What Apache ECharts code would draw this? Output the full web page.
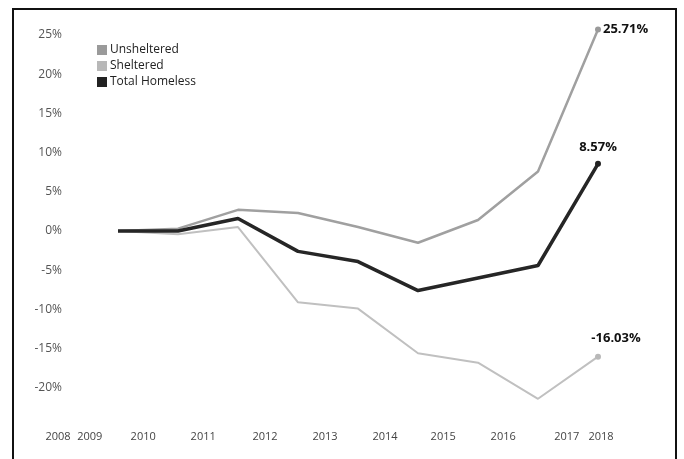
<!DOCTYPE html>
<html>
<head>
<meta charset="utf-8">
<script src="https://cdn.jsdelivr.net/npm/echarts@6/dist/echarts.min.js"></script>
<style>
  html, body { margin: 0; padding: 0; background: #fff; }
  #chart { width: 684px; height: 459px; }
</style>
</head>
<body>
<div id="chart"></div>
<script>
// Year-over-year change in homeless counts, relative to 2009 (%)
const years = [2009, 2010, 2011, 2012, 2013, 2014, 2015, 2016, 2017];
const unsheltered = [0, 0.3, 2.7, 2.3, 0.5, -1.5, 1.4, 7.6, 25.71];
const sheltered = [0, -0.4, 0.5, -9.1, -9.9, -15.6, -16.8, -21.4, -16.03];
const totalHomeless = [0, 0.0, 1.6, -2.6, -3.9, -7.6, -6.0, -4.4, 8.57];

const seriesNames = ['Unsheltered', 'Sheltered', 'Total Homeless'];
const yearTickLabels = ['2008', '2009', '2010', '2011', '2012', '2013', '2014', '2015', '2016', '2017', '2018'];
// where each year caption sits along the time scale
const yearTickSpots = [2008.0, 2008.53, 2009.42, 2010.42, 2011.45, 2012.45, 2013.45, 2014.42, 2015.42, 2016.48, 2017.05];

const font = '"Open Sans", "DejaVu Sans", sans-serif';

function pairs(vals) {
  return vals.map((v, i) => [years[i], v]);
}

function endLabel(vals, position, offset) {
  const last = vals.length - 1;
  return pairs(vals).map((p, i) => {
    if (i !== last) return p;
    return {
      value: p,
      symbol: 'circle',
      symbolSize: 6,
      label: {
        show: true,
        position: position,
        offset: offset,
        formatter: v => v.value[1].toFixed(2) + '%',
        fontFamily: font,
        fontWeight: 'bold',
        fontSize: 13,
        color: '#111'
      }
    };
  });
}

const chart = echarts.init(document.getElementById('chart'), null, { renderer: 'canvas' });

chart.setOption({
  backgroundColor: '#fff',
  animation: false,
  graphic: [{
    type: 'rect',
    shape: { x: 13, y: 9, width: 663, height: 470 },
    style: { fill: 'none', stroke: '#111', lineWidth: 2 },
    silent: true,
    z: 100
  }],
  legend: {
    data: seriesNames,
    orient: 'vertical',
    left: 92,
    top: 39,
    itemWidth: 10,
    itemHeight: 10,
    itemGap: 4,
    icon: 'rect',
    textStyle: { fontFamily: font, fontSize: 12, color: '#222', padding: [0, 0, 0, -2] }
  },
  grid: { left: 58, right: 26, top: 15.4, bottom: 32 },
  xAxis: {
    type: 'value',
    min: 2008,
    max: 2018,
    axisLine: { show: false },
    axisTick: { show: false },
    splitLine: { show: false },
    axisLabel: {
      customValues: yearTickSpots,
      formatter: v => {
        const i = yearTickSpots.findIndex(s => Math.abs(s - v) < 1e-6);
        return i >= 0 ? yearTickLabels[i] : '';
      },
      margin: 4,
      fontFamily: font,
      fontSize: 11,
      color: '#444'
    }
  },
  yAxis: {
    type: 'value',
    min: -25,
    max: 27.5,
    interval: 5,
    axisLine: { show: false },
    axisTick: { show: false },
    splitLine: { show: false },
    axisLabel: {
      formatter: v => (v % 5 === 0 && v > -25 && v < 27.5) ? v + '%' : '',
      margin: -4,
      fontFamily: font,
      fontSize: 12,
      color: '#555'
    }
  },
  series: [
    {
      name: 'Unsheltered',
      type: 'line',
      data: endLabel(unsheltered, 'right', [-3, 0]),
      symbol: 'none',
      color: '#9a9a9a',
      lineStyle: { width: 2.5, color: '#a0a0a0' },
      itemStyle: { color: '#9a9a9a' },
      z: 2
    },
    {
      name: 'Sheltered',
      type: 'line',
      data: endLabel(sheltered, 'top', [18, -4]),
      symbol: 'none',
      color: '#b8b8b8',
      lineStyle: { width: 2, color: '#c0c0c0' },
      itemStyle: { color: '#b8b8b8' },
      z: 2
    },
    {
      name: 'Total Homeless',
      type: 'line',
      data: endLabel(totalHomeless, 'top', [0, -2]),
      symbol: 'none',
      color: '#222',
      lineStyle: { width: 3.5, color: '#262626' },
      itemStyle: { color: '#222' },
      z: 3
    }
  ]
});
</script>
</body>
</html>
